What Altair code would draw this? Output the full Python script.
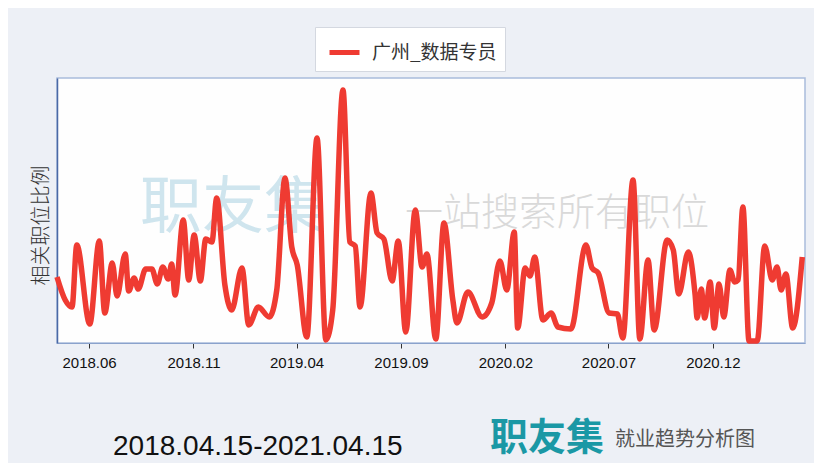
import altair as alt
import pandas as pd

series_name = "广州_数据专员"
start_date = "2018-04-15"
end_date = "2021-04-15"

# days since 2018-04-15 and relative job-share values
day_offsets = [0, 12, 22, 29, 48, 62, 70, 81, 88, 100, 105, 113, 119, 130, 139, 147, 155, 163, 168, 173,
               185, 193, 201, 210, 218, 227, 234, 246, 256, 271, 281, 295, 311, 322, 334, 344, 352, 366,
               381, 394, 404, 419, 429, 437, 444, 460, 469, 479, 491, 500, 511, 525, 535, 542, 555, 567,
               580, 586, 602, 623, 637, 649, 659, 670, 675, 686, 693, 700, 712, 724, 734, 753, 775, 784,
               793, 809, 821, 829, 844, 854, 866, 875, 894, 903, 911, 925, 935, 938, 944, 949, 957, 963,
               970, 977, 986, 993, 998, 1005, 1014, 1026, 1037, 1048, 1055, 1061, 1068, 1078, 1092]
ratios = [0.66, 0.43, 0.36, 0.98, 0.19, 1.02, 0.30, 0.80, 0.47, 0.89, 0.52, 0.65, 0.54, 0.74, 0.74, 0.59,
          0.76, 0.64, 0.79, 0.48, 1.23, 0.63, 1.08, 0.62, 1.04, 1.01, 1.45, 0.58, 0.33, 0.75, 0.18, 0.36,
          0.26, 0.53, 1.65, 0.96, 0.78, 0.06, 2.05, 0.03, 0.33, 2.53, 1.01, 0.97, 0.36, 1.50, 1.10, 1.04,
          0.62, 1.02, 0.11, 1.33, 0.76, 0.89, 0.04, 1.20, 0.43, 0.20, 0.51, 0.26, 0.40, 0.82, 0.53, 1.11,
          0.15, 0.75, 0.67, 0.86, 0.23, 0.30, 0.16, 0.14, 0.98, 0.75, 0.70, 0.30, 0.29, 0.05, 1.63, 0.04,
          0.83, 0.13, 1.03, 0.93, 0.49, 0.91, 0.48, 0.25, 0.54, 0.25, 0.61, 0.15, 0.59, 0.26, 0.73, 0.61,
          0.63, 1.36, 0.02, 0.02, 0.97, 0.63, 0.76, 0.53, 0.69, 0.15, 0.86]
tick_dates = ["2018-06-01", "2018-11-01", "2019-04-01", "2019-09-01",
              "2020-02-01", "2020-07-01", "2020-12-01"]

dates = (pd.Timestamp(start_date) + pd.to_timedelta(day_offsets, unit="D")).strftime("%Y-%m-%d")
df = pd.DataFrame({"date": dates, "ratio": ratios, "series": series_name})

CJK = "Noto Sans CJK SC"
LAT = "Liberation Sans"

line = alt.Chart(df).mark_line(strokeWidth=5.5, interpolate="monotone").encode(
    x=alt.X("date:T",
            scale=alt.Scale(type="utc", domain=[start_date, end_date]),
            axis=alt.Axis(values=tick_dates, labelExpr="utcFormat(datum.value, '%Y.%m')",
                          title=None, grid=False, labelFont=LAT, labelFontSize=15,
                          labelColor="#111", tickColor="#333", tickSize=5, labelPadding=7,
                          domainColor="#8aa2cc", labelFlush=False)),
    y=alt.Y("ratio:Q", scale=alt.Scale(domain=[0, 2.65], nice=False, zero=False),
            axis=alt.Axis(title="相关职位比例", labels=False, ticks=False, grid=False,
                          domainColor="#4a69a6", domainWidth=1.5, titleFont=CJK,
                          titleFontSize=20, titleFontWeight=300, titleColor="#333",
                          titlePadding=6, titleY=147)),
    color=alt.Color("series:N", scale=alt.Scale(domain=[series_name], range=["#ef3b32"]),
                    legend=alt.Legend(title=None, orient="none", legendX=258, legendY=-51,
                                      symbolType="stroke", symbolStrokeWidth=5, symbolSize=900,
                                      labelFont=CJK, labelFontSize=19, labelColor="#333",
                                      fillColor="white", strokeColor="#d4d8e0", padding=8,
                                      symbolOffset=4, labelOffset=10)),
)


def txt(label, x, y, size, color, font=CJK, weight="normal", opacity=1.0):
    return alt.Chart(pd.DataFrame({"t": [label]})).mark_text(
        align="left", baseline="alphabetic", fontSize=size, color=color, font=font,
        fontWeight=weight, opacity=opacity
    ).encode(x=alt.value(x), y=alt.value(y), text="t:N")


wm1 = txt("职友集", 83, 150, 62, "#cfe5ee")
wm2 = txt("一站搜索所有职位", 348, 147, 38, "#d9d9d9", weight=300)
foot1 = txt("2018.04.15-2021.04.15", 56, 377, 28, "#111", font=LAT)
foot2 = txt("职友集", 433, 372, 38, "#1a98a5", weight="bold")
foot3 = txt("就业趋势分析图", 558, 368, 20, "#555")

chart = alt.layer(wm1, wm2, line, foot1, foot2, foot3).properties(
    width=748, height=265,
    autosize=alt.AutoSizeParams(type="none"),
    padding={"left": 49, "top": 70, "right": 9, "bottom": 120},
    background="#edf0f6",
).configure_view(fill="#fefefe", stroke="#a9bcdc", strokeWidth=1.5)

chart.save("out.html", embed_options={"renderer": "svg", "actions": False})
